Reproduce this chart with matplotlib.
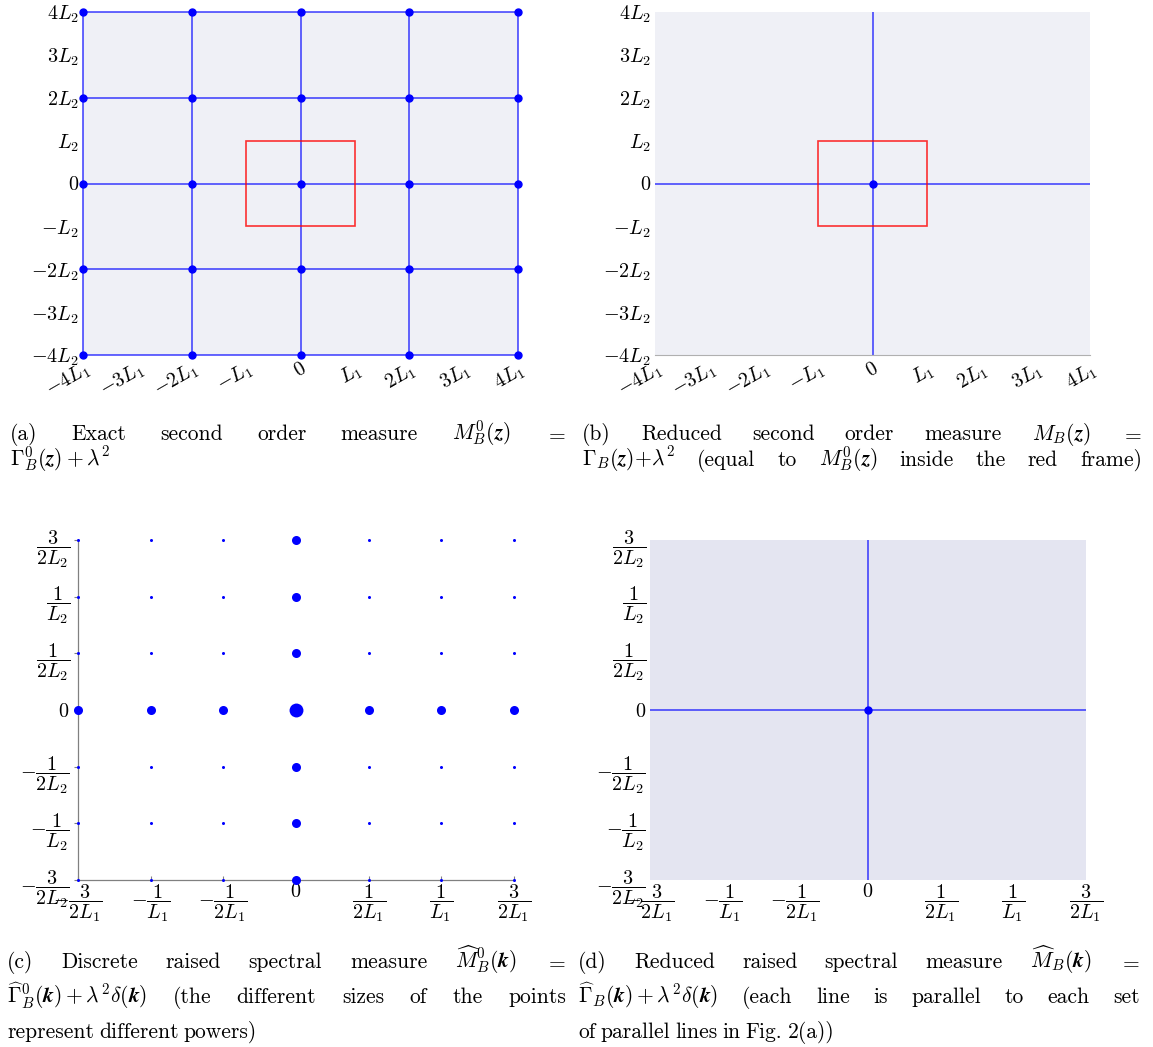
import matplotlib
matplotlib.use("Agg")
import matplotlib.pyplot as plt
from matplotlib.patches import Rectangle

plt.rcParams['mathtext.fontset'] = 'cm'
plt.rcParams['font.family'] = 'cmr10'
plt.rcParams['axes.formatter.use_mathtext'] = True

W, H = 1153, 1047
DPI = 100

# spatial lattice (units of L1, L2)
lat_x = [-4, -2, 0, 2, 4]
lat_y = [-4, -2, 0, 2, 4]
frame = (-1, 1, -1, 1)
z_ticks = [-4, -3, -2, -1, 0, 1, 2, 3, 4]
zx_labels = [r'$-4L_1$', r'$-3L_1$', r'$-2L_1$', r'$-L_1$', r'$0$',
             r'$L_1$', r'$2L_1$', r'$3L_1$', r'$4L_1$']
zy_labels = [r'$-4L_2$', r'$-3L_2$', r'$-2L_2$', r'$-L_2$', r'$0$',
             r'$L_2$', r'$2L_2$', r'$3L_2$', r'$4L_2$']

# spectral lattice (units of 1/L1, 1/L2)
k_vals = [-1.5, -1, -0.5, 0, 0.5, 1, 1.5]
kx_labels = [r'$-\dfrac{3}{2L_1}$', r'$-\dfrac{1}{L_1}$', r'$-\dfrac{1}{2L_1}$', r'$0$',
             r'$\dfrac{1}{2L_1}$', r'$\dfrac{1}{L_1}$', r'$\dfrac{3}{2L_1}$']
ky_labels = [r'$-\dfrac{3}{2L_2}$', r'$-\dfrac{1}{L_2}$', r'$-\dfrac{1}{2L_2}$', r'$0$',
             r'$\dfrac{1}{2L_2}$', r'$\dfrac{1}{L_2}$', r'$\dfrac{3}{2L_2}$']
power_origin = 3
power_axis = 2
power_other = 1

line_col = (0.0, 0.0, 1.0, 0.7)
bg_light = '#eff0f6'
bg_d = '#e4e5f1'
TICK = 14.5

fig = plt.figure(figsize=(W / DPI, H / DPI), dpi=DPI)


def px_axes(l, t, r, b):
    return fig.add_axes([l / W, 1 - b / H, (r - l) / W, (b - t) / H])


def z_axes(ax):
    ax.set_xlim(-4, 4)
    ax.set_ylim(-4, 4)
    ax.set_facecolor(bg_light)
    for s in ax.spines.values():
        s.set_visible(False)
    ax.set_xticks(z_ticks)
    ax.set_yticks(z_ticks)
    ax.set_xticklabels(zx_labels, rotation=30, ha='right', va='top', rotation_mode='anchor')
    ax.set_yticklabels(zy_labels)
    ax.tick_params(length=0, labelsize=TICK, pad=3)


# (a)
ax = px_axes(83, 12, 518, 355)
z_axes(ax)
for x in lat_x:
    ax.plot([x, x], [-4, 4], color=line_col, lw=1.2, clip_on=False)
for y in lat_y:
    ax.plot([-4, 4], [y, y], color=line_col, lw=1.2, clip_on=False)
ax.plot([x for x in lat_x for y in lat_y], [y for x in lat_x for y in lat_y],
        'o', color='blue', ms=5, clip_on=False, zorder=5)
ax.add_patch(Rectangle((frame[0], frame[2]), frame[1] - frame[0], frame[3] - frame[2],
                       fill=False, ec=(1, 0, 0, 0.8), lw=1.2, zorder=4))

# (b)
ax = px_axes(655, 12, 1090, 355)
z_axes(ax)
ax.spines['bottom'].set_visible(True)
ax.spines['bottom'].set_color('#b0b0b0')
ax.axvline(0, color=line_col, lw=1.2)
ax.axhline(0, color=line_col, lw=1.2)
ax.plot([0], [0], 'o', color='blue', ms=5, zorder=5)
ax.add_patch(Rectangle((frame[0], frame[2]), frame[1] - frame[0], frame[3] - frame[2],
                       fill=False, ec=(1, 0, 0, 0.8), lw=1.2, zorder=4))


def k_axes(ax):
    ax.set_xlim(-1.5, 1.5)
    ax.set_ylim(-1.5, 1.5)
    ax.set_xticks(k_vals)
    ax.set_yticks(k_vals)
    ax.set_xticklabels(kx_labels)
    ax.set_yticklabels(ky_labels)
    ax.tick_params(labelsize=TICK, length=3, color='#808080', width=0.8)
    ax.tick_params(axis='x', direction='in', pad=2)
    ax.tick_params(axis='y', direction='out', pad=3)
    ax.spines['top'].set_visible(False)
    ax.spines['right'].set_visible(False)


# (c)
ax = px_axes(78, 540, 514, 880)
k_axes(ax)
ax.set_facecolor('white')
for s in ('left', 'bottom'):
    ax.spines[s].set_color('#808080')
    ax.spines[s].set_linewidth(0.9)
size_of = {1: 2.2, 2: 6.5, 3: 10.0}
for kx in k_vals:
    for ky in k_vals:
        if kx == 0 and ky == 0:
            p = power_origin
        elif kx == 0 or ky == 0:
            p = power_axis
        else:
            p = power_other
        ax.plot([kx], [ky], 'o', color='blue', ms=size_of[p], mew=0, clip_on=False, zorder=5)

# (d)
ax = px_axes(650, 540, 1086, 880)
k_axes(ax)
ax.set_facecolor(bg_d)
for s in ax.spines.values():
    s.set_visible(False)
ax.tick_params(length=0)
ax.axvline(0, color=line_col, lw=1.2)
ax.axhline(0, color=line_col, lw=1.2)
ax.plot([0], [0], 'o', color='blue', ms=5, zorder=5)

# captions, justified like the LaTeX subcaptions
CAP = 15.5
renderer = fig.canvas.get_renderer()


def cap_line(words, x0, x1, y, last=False):
    texts = [fig.text(0, 0, w, fontsize=CAP, va='baseline', ha='left') for w in words]
    widths = [t.get_window_extent(renderer).width for t in texts]
    if last or len(words) == 1:
        gap = CAP * 0.33
    else:
        gap = max((x1 - x0 - sum(widths)) / (len(words) - 1), 2)
    x = x0
    for t, w in zip(texts, widths):
        t.set_position((x / W, 1 - y / H))
        x += w + gap


bz = r'\mathbfit{z}'
bk = r'\mathbfit{k}'
cap_line(['(a)', 'Exact', 'second', 'order', 'measure', r'$M_B^0(%s)$' % bz, '$=$'],
         10, 566, 440)
cap_line([r'$\Gamma_B^0(%s)+\lambda^2$' % bz], 10, 566, 466, last=True)
cap_line(['(b)', 'Reduced', 'second', 'order', 'measure', r'$M_B(%s)$' % bz, '$=$'],
         582, 1142, 440)
cap_line([r'$\Gamma_B(%s){+}\lambda^2$' % bz, '(equal', 'to', r'$M_B^0(%s)$' % bz,
          'inside', 'the', 'red', 'frame)'], 582, 1142, 466)

cap_line(['(c)', 'Discrete', 'raised', 'spectral', 'measure',
          r'$\widehat{M}_B^0(%s)$' % bk, '$=$'], 7, 566, 968)
cap_line([r'$\widehat{\Gamma}_B^0(%s)+\lambda^2\delta(%s)$' % (bk, bk), '(the',
          'different', 'sizes', 'of', 'the', 'points'], 7, 566, 1003)
cap_line(['represent', 'different', 'powers)'], 7, 566, 1038, last=True)
cap_line(['(d)', 'Reduced', 'raised', 'spectral', 'measure',
          r'$\widehat{M}_B(%s)$' % bk, '$=$'], 578, 1140, 968)
cap_line([r'$\widehat{\Gamma}_B(%s)+\lambda^2\delta(%s)$' % (bk, bk), '(each', 'line',
          'is', 'parallel', 'to', 'each', 'set'], 578, 1140, 1003)
cap_line(['of', 'parallel', 'lines', 'in', 'Fig.', '2(a))'], 578, 1140, 1038, last=True)

fig.savefig('out.png', dpi=DPI)
